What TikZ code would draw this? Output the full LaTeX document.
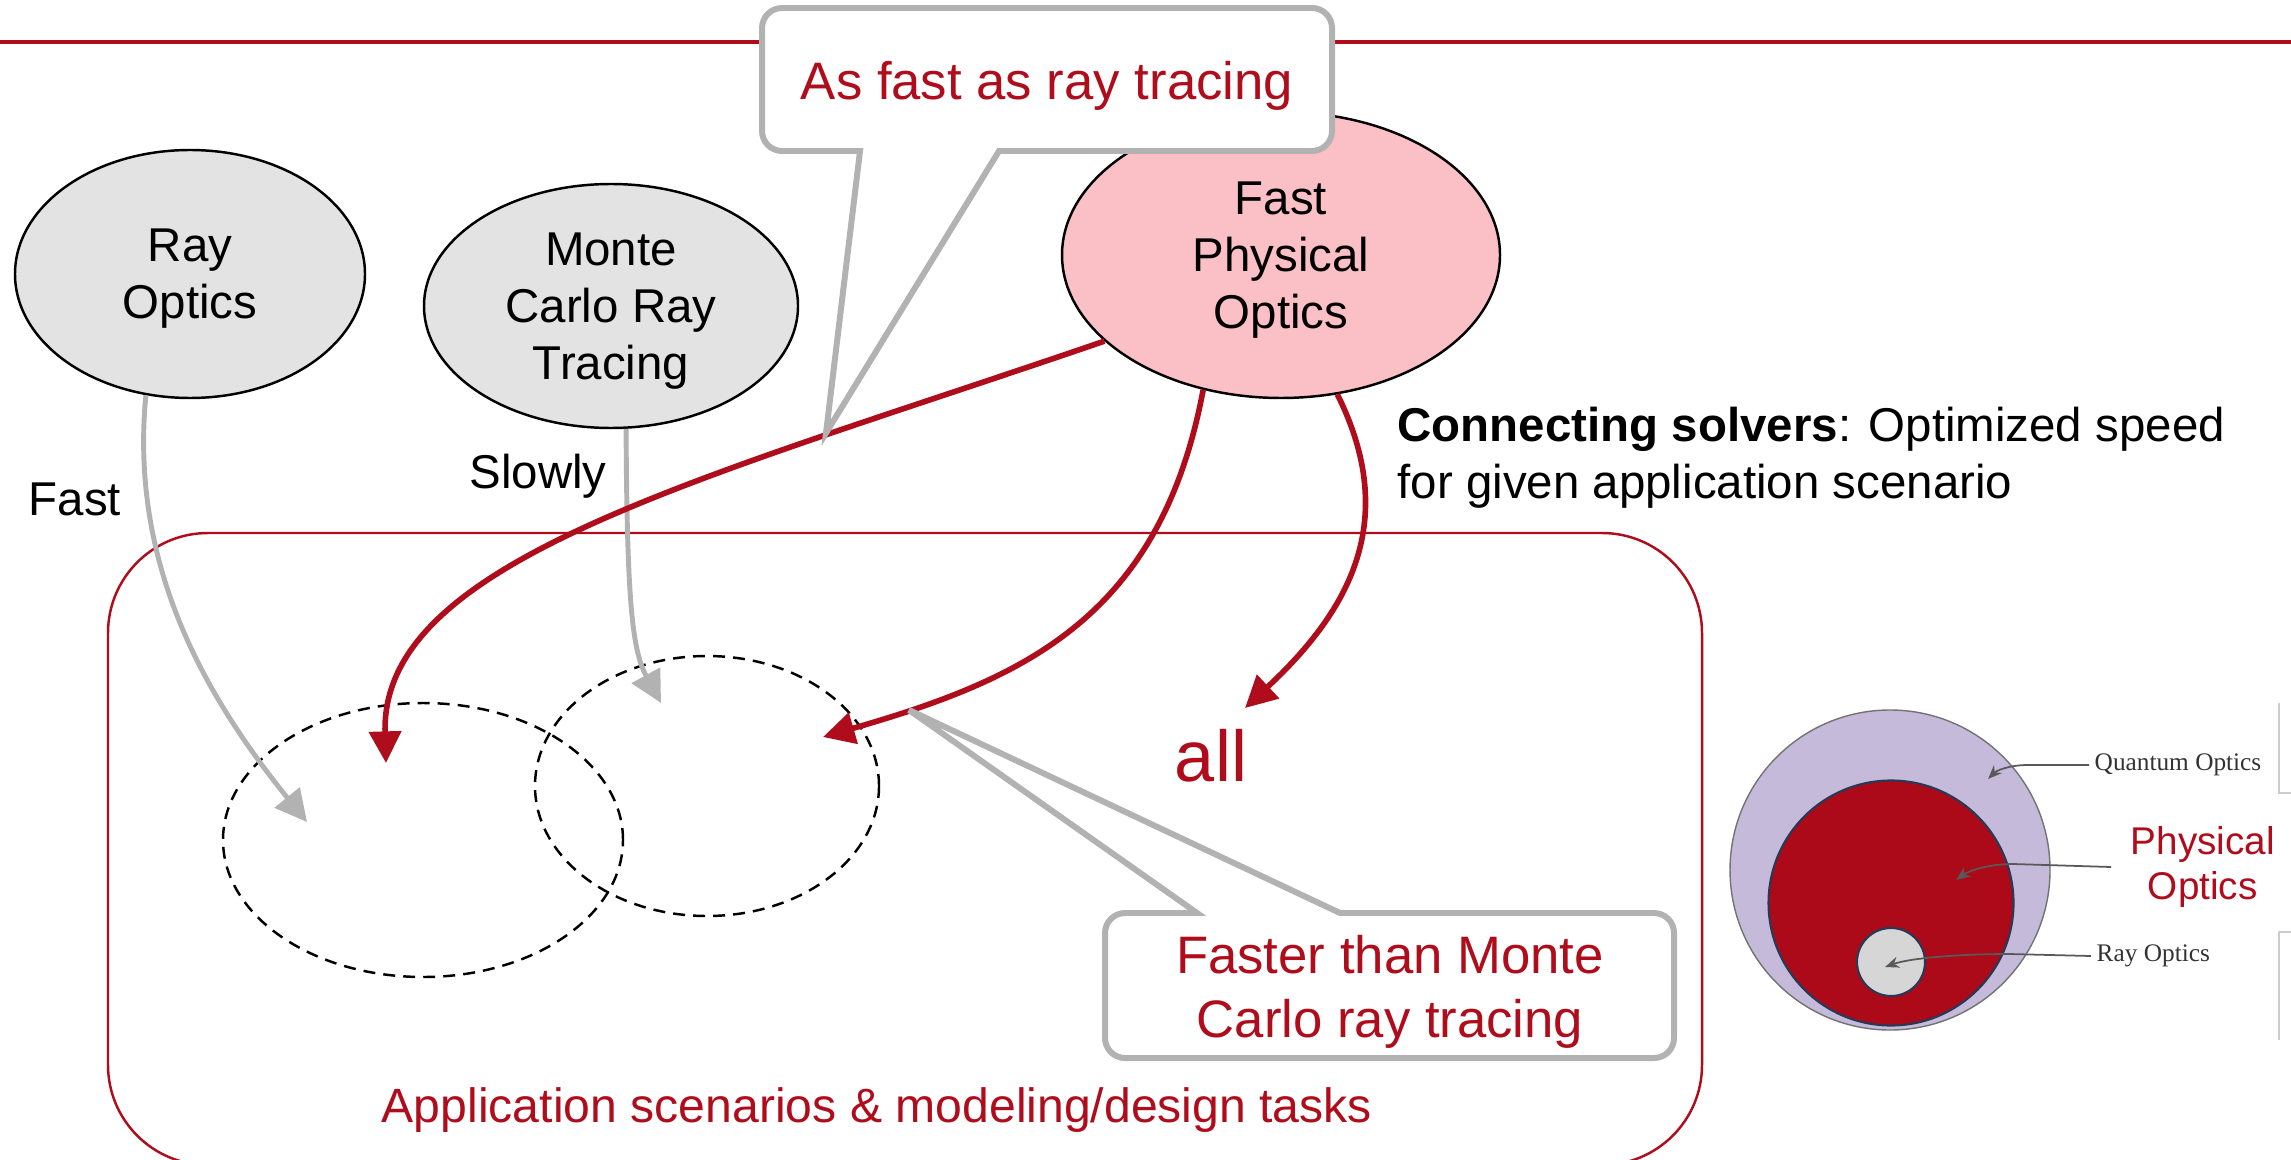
\documentclass[tikz,border=0pt]{standalone}
\usepackage{fontspec}
\setmainfont{Liberation Sans}
\newfontfamily\insetfont{Liberation Serif}
\usetikzlibrary{arrows.meta,shapes.geometric,positioning}
\definecolor{brickred}{RGB}{175,12,28}
\definecolor{solvergray}{RGB}{227,227,227}
\definecolor{solverpink}{RGB}{251,192,197}
\definecolor{callgray}{RGB}{178,178,178}
\definecolor{qlavender}{RGB}{198,186,219}
\definecolor{discred}{RGB}{172,10,24}
\definecolor{discedge}{RGB}{38,58,88}
\definecolor{discgray}{RGB}{214,214,214}
\tikzset{
    %Define standard arrow tip
    >={Triangle[length=9pt,width=9pt]},
    % Define solver and scenario shapes
    solver/.style={
           ellipse,
           draw=black,
           line width=0.7pt,
           inner sep=0pt,
           text depth=0pt,
           align=center,
           font=\fontsize{13.5}{16.2}\selectfont},
    scenario/.style={
           ellipse,
           draw=black,
           dashed,
           dash pattern=on 3.4pt off 2.3pt,
           line width=0.7pt,
           inner sep=0pt},
    taskbox/.style={
           draw=brickred,
           line width=0.7pt,
           rounded corners=10mm,
           inner sep=0pt},
    note/.style={font=\fontsize{13.5}{16}\selectfont, inner sep=0pt},
    calltext/.style={
           text=brickred,
           align=center,
           inner sep=0pt,
           font=\fontsize{15}{18.2}\selectfont},
    % Define arrow styles
    grayarrow/.style={->, draw=callgray, line width=1.4pt},
    redarrow/.style={->, draw=brickred, line width=1.6pt},
    callout/.style={draw=callgray, fill=white, line width=1.7pt},
    insetlbl/.style={inner sep=0.5mm, text=black!80, font=\insetfont\fontsize{7.2}{8.6}\selectfont},
    insetarrow/.style={-{Stealth[length=4pt,width=3.2pt]}, draw=black!65, line width=0.5pt}
}
\begin{document}
\begin{tikzpicture}[x=0.1mm, y=-0.1mm]
\useasboundingbox (0,0) rectangle (2291,1160);

\draw[brickred, line width=1.1pt] (0,42) -- (2291,42);

% application box
\node[taskbox, minimum width=159.4mm, minimum height=63.2mm] (tasks) at (905,849) {};
\node[note, text=brickred, font=\fontsize{13.7}{16}\selectfont, anchor=base] (tasktext) at (877,1122) {Application scenarios \& modeling/design tasks};

% solvers
\node[solver, fill=solvergray, minimum width=35mm, minimum height=24.8mm] (rayopt) at (190,274) {Ray\\Optics};
\node[solver, fill=solvergray, minimum width=37.4mm, minimum height=24.4mm] (mcrt) at (611,306) {Monte\\Carlo Ray\\Tracing};
\node[solver, fill=solverpink, minimum width=43.8mm, minimum height=28.6mm] (fpo) at (1281,255) {Fast\\Physical\\Optics};

% scenarios
\node[scenario, minimum width=40mm, minimum height=27.4mm] (scenA) at (423,840) {};
\node[scenario, minimum width=34.4mm, minimum height=26mm] (scenB) at (707,786) {};

\coordinate (rayend) at (307,822);
\coordinate (mcend) at (661,703);
\coordinate (fpoendA) at (386,763);
\coordinate (fpoendB) at (823,737);
\coordinate (fpoendC) at (1245,708);

\draw[grayarrow] (rayopt.250) .. controls (130,560) and (200,690) .. (rayend);
\draw[grayarrow] (mcrt.277) .. controls (627,600) and (632,650) .. (mcend);
\node[note, anchor=base] (fastlbl) at (75,515) {Fast};
\node[note, anchor=base] (slowlbl) at (538,488) {Slowly};

\draw[redarrow] (fpo.206) .. controls (700,480) and (380,560) .. (fpoendA);
\draw[redarrow] (fpo.240) .. controls (1160,620) and (1020,680) .. (fpoendB);
\draw[redarrow] (fpo.292) .. controls (1400,520) and (1350,610) .. (fpoendC);
\node[note, text=brickred, font=\fontsize{20.5}{24}\selectfont, anchor=base] (alltext) at (1211,781) {all};

\node[note, align=left, anchor=base west] (connect) at (1397,498) {\textbf{Connecting solvers}: Optimized speed\\for given application scenario};

% callouts
\coordinate (callAnw) at (762,8);
\coordinate (callAse) at (1332,151);
\coordinate (callAl) at (860,151);
\coordinate (callAr) at (999,151);
\coordinate (callAtip) at (826,433);
\draw[callout] (callAr) -- (callAtip) -- (callAl) [rounded corners=2mm] -- (callAnw |- callAse) -- (callAnw) -- (callAnw -| callAse) -- (callAse) [sharp corners] -- cycle;
\node[calltext] (callAtext) at (1047,86) {As fast as ray tracing};

\coordinate (callBnw) at (1105,913);
\coordinate (callBse) at (1674,1058);
\coordinate (callBl) at (1197,913);
\coordinate (callBr) at (1340,913);
\coordinate (callBtip) at (909,710);
\draw[callout] (callBl) -- (callBtip) -- (callBr) [rounded corners=2mm] -- (callBnw -| callBse) -- (callBse) -- (callBnw |- callBse) -- (callBnw) [sharp corners] -- cycle;
\node[calltext] (callBtext) at (1390,992) {Faster than Monte\\Carlo ray tracing};

% inset
\node[circle, fill=qlavender, draw=black!55, line width=0.4pt, minimum size=32mm] (qdisc) at (1890,870) {};
\node[circle, fill=discred, draw=discedge, line width=0.6pt, minimum size=24.5mm] (pdisc) at (1891,903) {};
\node[circle, fill=discgray, draw=discedge, line width=0.6pt, minimum size=6.8mm] (rdisc) at (1891,962) {};

\node[insetlbl, anchor=west] (qolbl) at (2089,765) {Quantum Optics};
\node[inner sep=0pt, inner xsep=1.9mm, align=center, text=brickred, font=\fontsize{11}{12.8}\selectfont, anchor=west] (polbl) at (2111,867) {Physical\\Optics};
\node[insetlbl, anchor=west] (rolbl) at (2091,956) {Ray Optics};

\coordinate (qotip) at (1988,779);
\coordinate (potip) at (1956,880);
\coordinate (rotip) at (1885,967);
\draw[insetarrow] (qolbl.west) -- (2028,765) .. controls (2008,765) and (1996,771) .. (qotip);
\draw[insetarrow] (polbl.west) -- (2013,864) .. controls (1990,864) and (1970,870) .. (potip);
\draw[insetarrow] (rolbl.west) -- (2009,954) .. controls (1960,954) and (1910,958) .. (rotip);

\draw[black!20, line width=0.4pt] (2279,703) -- (2279,793) -- (2291,793);
\draw[black!20, line width=0.4pt] (2291,932) -- (2279,932) -- (2279,1040);
\end{tikzpicture}
\end{document}
